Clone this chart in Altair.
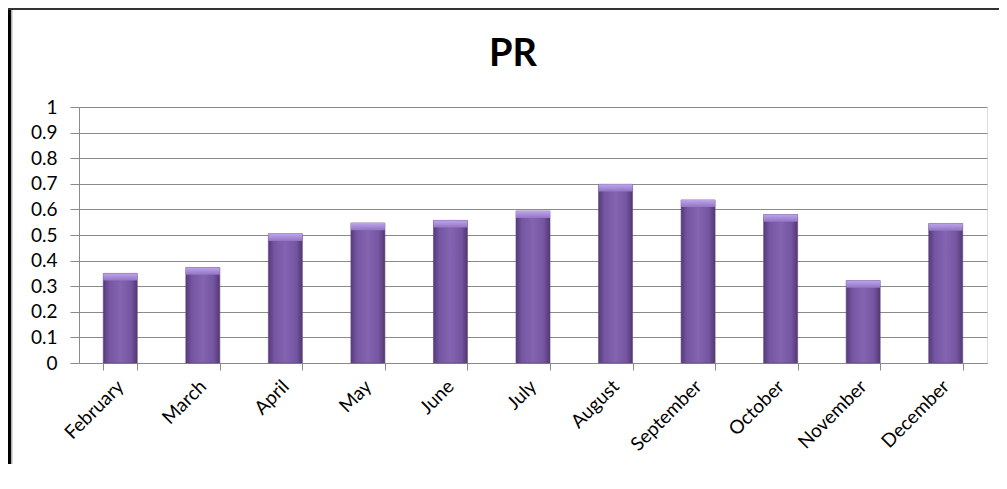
import altair as alt
import pandas as pd

months = ["February", "March", "April", "May", "June", "July", "August",
          "September", "October", "November", "December"]
pr_values = [0.35, 0.373, 0.505, 0.547, 0.557, 0.594, 0.698, 0.637, 0.58, 0.322, 0.545]
y_ticks = [0, 0.1, 0.2, 0.3, 0.4, 0.5, 0.6, 0.7, 0.8, 0.9, 1]
title_text = "PR"

df = pd.DataFrame({"month": months, "pr": pr_values})

W, H = 908, 256
FONT = "Lato"
GRID = "#8a8a8a"

x_enc = alt.X(
    "month:N", sort=months, title=None,
    scale=alt.Scale(paddingInner=0.588, paddingOuter=0.294),
    axis=alt.Axis(labelAngle=-45, labelFontSize=19, labelFont=FONT, labelColor="#000",
                  tickBand="extent", tickSize=7, tickColor=GRID, domainColor=GRID,
                  labelPadding=13, grid=False, labelAlign="right", labelBaseline="middle",
                  labelOverlap=False),
)
y_enc = alt.Y(
    "pr:Q", title=None,
    scale=alt.Scale(domain=[0, 1], nice=False),
    axis=alt.Axis(values=y_ticks, format="~g", labelFontSize=19, labelFont=FONT,
                  labelColor="#000", tickSize=9, tickColor=GRID, domainColor=GRID,
                  gridColor=GRID, gridOpacity=1, labelPadding=13, labelOverlap=False,
                  labelBaseline="middle"),
)

body_grad = alt.Gradient(
    gradient="linear", x1=0, x2=1, y1=0, y2=0,
    stops=[
        alt.GradientStop(color="#553a78", offset=0),
        alt.GradientStop(color="#7556a3", offset=0.18),
        alt.GradientStop(color="#8464b0", offset=0.5),
        alt.GradientStop(color="#7455a2", offset=0.82),
        alt.GradientStop(color="#52386f", offset=1),
    ],
)
cap_grad = alt.Gradient(
    gradient="linear", x1=0, x2=0, y1=0, y2=1,
    stops=[
        alt.GradientStop(color="#bda5ea", offset=0),
        alt.GradientStop(color="#9274c4", offset=1),
    ],
)

bars = alt.Chart(df).mark_bar(color=body_grad, stroke="#5f4485", strokeWidth=0.6).encode(
    x=x_enc, y=y_enc
)
caps = alt.Chart(df).transform_calculate(top2="datum.pr - 0.028").mark_bar(
    color=cap_grad
).encode(x=x_enc, y=y_enc, y2="top2:Q")

frame = alt.Data(values=[{"k": 1}])
title_mark = alt.Chart(alt.Data(values=[{"t": title_text}])).mark_text(
    font=FONT, fontSize=38, fontWeight="bold", color="#000", align="center",
    baseline="alphabetic"
).encode(x=alt.value(434), y=alt.value(-41), text="t:N")
left_border = alt.Chart(frame).mark_rule(color="#000", strokeWidth=3).encode(
    x=alt.value(-69.5), y=alt.value(-99), y2=alt.value(368)
)
left_shade = alt.Chart(frame).mark_rule(color="#b0b0b0", strokeWidth=1.5).encode(
    x=alt.value(-67.3), y=alt.value(-97), y2=alt.value(367)
)
top_border = alt.Chart(frame).mark_rule(color="#333", strokeWidth=2).encode(
    x=alt.value(-71), x2=alt.value(930), y=alt.value(-98)
)
bottom_border = alt.Chart(frame).mark_rule(color="#a8a8a8", strokeWidth=2).encode(
    x=alt.value(-71), x2=alt.value(930), y=alt.value(367)
)

chart = alt.layer(bars, caps, title_mark, left_border, left_shade, top_border,
                  bottom_border).properties(
    width=W, height=H,
    padding={"left": 71, "top": 99, "right": 12, "bottom": 101},
    autosize=alt.AutoSizeParams(type="none"),
).configure_view(stroke=None).configure(background="white")

chart.save("out.html", embed_options={"renderer": "svg", "actions": False})
